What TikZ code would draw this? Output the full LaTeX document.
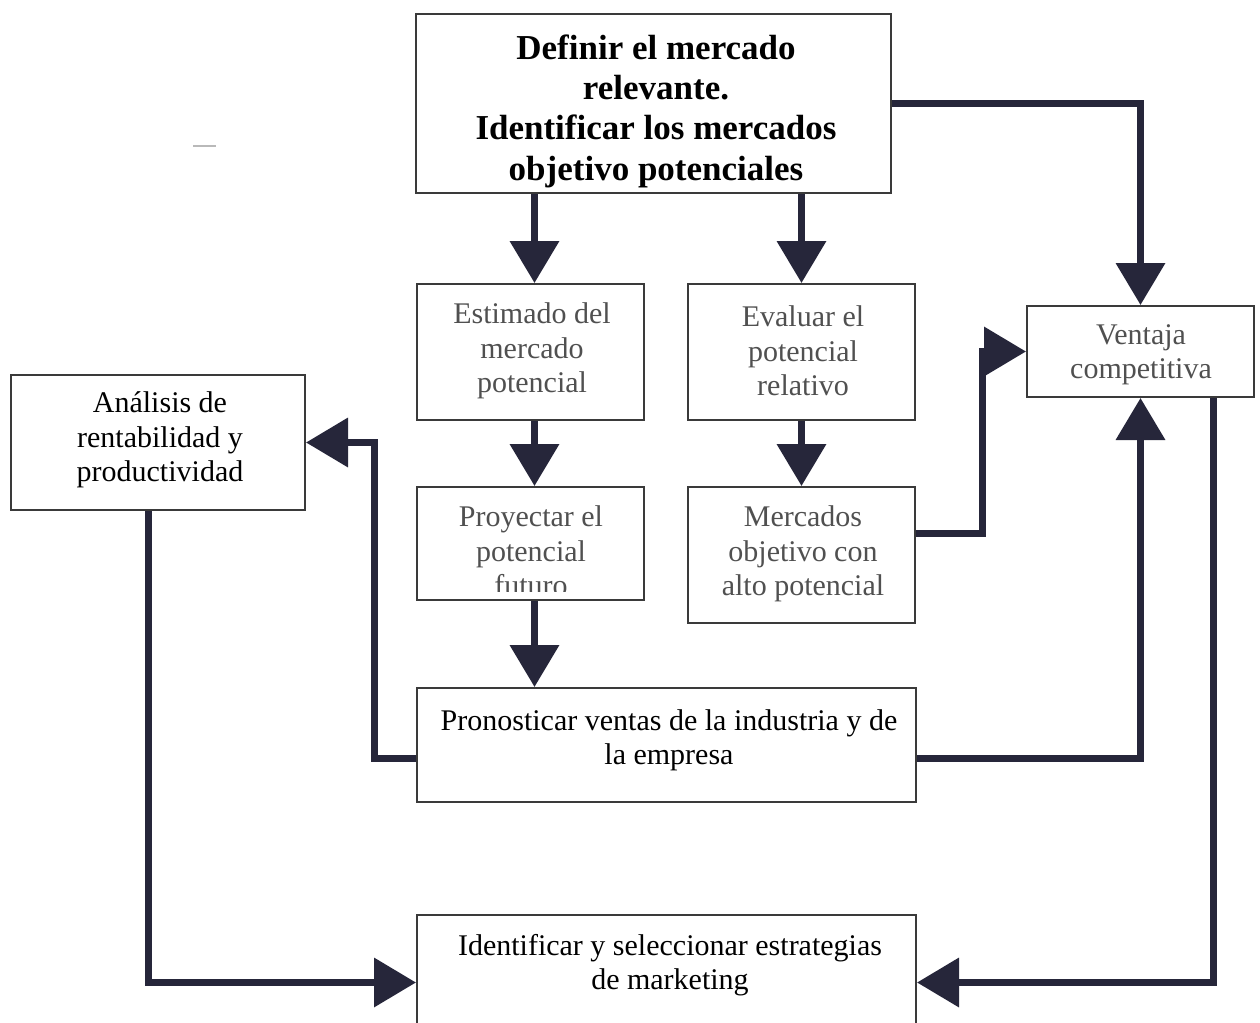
\documentclass[tikz,border=0pt]{standalone}
\usepackage{fontspec}
\setmainfont{Liberation Serif}
\usetikzlibrary{arrows.meta,calc}
\definecolor{arrowc}{HTML}{26263A}
\definecolor{framec}{HTML}{3A3A3A}
\definecolor{softtext}{HTML}{505050}
\begin{document}
\begin{tikzpicture}[x=0.5pt,y=-0.5pt,
  frame/.style={draw=framec, line width=1pt, inner sep=0pt, rectangle},
  label/.style={align=center, inner sep=0pt, font=\fontsize{15}{17.2}\selectfont},
  softlabel/.style={label, text=softtext},
  headlabel/.style={align=center, inner sep=0pt, font=\fontsize{17.5}{20.2}\selectfont\bfseries},
  arr/.style={draw=arrowc, line width=3.5pt, -{Triangle[width=24pt,length=21pt]}}
]
\useasboundingbox (0,0) rectangle (1260,1023);
\clip (0,0) rectangle (1260,1023);

% boxes
\node[frame, minimum width=237.5pt, minimum height=89.5pt] (top) at (653.5,103.5) {};
\node[frame, minimum width=113.5pt, minimum height=68pt] (est) at (530.5,352) {};
\node[frame, minimum width=113.5pt, minimum height=68pt] (eva) at (801.5,352) {};
\node[frame, minimum width=113.5pt, minimum height=56.5pt] (proy) at (530.5,543.5) {};
\node[frame, minimum width=113.5pt, minimum height=68pt] (merc) at (801.5,555) {};
\node[frame, minimum width=113.5pt, minimum height=45.5pt] (ven) at (1140.5,351.5) {};
\node[frame, minimum width=147pt, minimum height=67.5pt] (ana) at (158,442.5) {};
\node[frame, minimum width=249.5pt, minimum height=57pt] (pron) at (666.5,745) {};
\node[frame, minimum width=249.5pt, minimum height=62.5pt] (ident) at (666.5,977.5) {};

% texts
\node[headlabel] (topt) at (656,111) {Definir el mercado\\relevante.\\Identificar los mercados\\objetivo potenciales};
\node[softlabel] (estt) at (532,351) {Estimado del\\mercado\\potencial};
\node[softlabel] (evat) at (803,351) {Evaluar el\\potencial\\relativo};
\begin{scope}
  \clip (417,487) rectangle (644,591);
  \node[softlabel] (proyt) at (531,551) {Proyectar el\\potencial\\futuro};
\end{scope}
\node[softlabel] (merct) at (803,554) {Mercados\\objetivo con\\alto potencial};
\node[softlabel] (vent) at (1141,355) {Ventaja\\competitiva};
\node[label] (anat) at (160,440) {Análisis de\\rentabilidad y\\productividad};
\node[label] (pront) at (669,740) {Pronosticar ventas de la industria y de\\la empresa};
\node[label] (identt) at (670,965) {Identificar y seleccionar estrategias\\de marketing};

% small stray mark
\draw[gray!55, line width=0.8pt] (193,146) -- (216,146);

% connectors
\draw[arr] ($(top.south -| est.north)+(4,0)$) -- ($(est.north)+(4,0)$);
\draw[arr] (top.south -| eva.north) -- (eva.north);
\draw[arr] ($(est.south)+(4,0)$) -- ($(proy.north)+(4,0)$);
\draw[arr] (eva.south) -- (merc.north);
\draw[arr] ($(proy.south)+(4,0)$) -- ($(proy.south |- pron.north)+(4,0)$);
\draw[arr] (top.east) -| (ven.north);
\draw[arr] ($(merc.east)+(0,-22)$) -| ($(ven.west)+(-44,0)$) -- (ven.west);
\draw[arr] ($(pron.west)+(0,13)$) -| ($(ana.east)+(68,0)$) -- (ana.east);
\draw[arr] ($(pron.east)+(0,13)$) -| (ven.south);
\draw[arr] ($(ana.south)+(-10,0)$) |- ($(ident.west)+(0,5)$);
\draw[arr] ($(ven.south)+(72.5,0)$) |- ($(ident.east)+(0,5)$);
\end{tikzpicture}
\end{document}
